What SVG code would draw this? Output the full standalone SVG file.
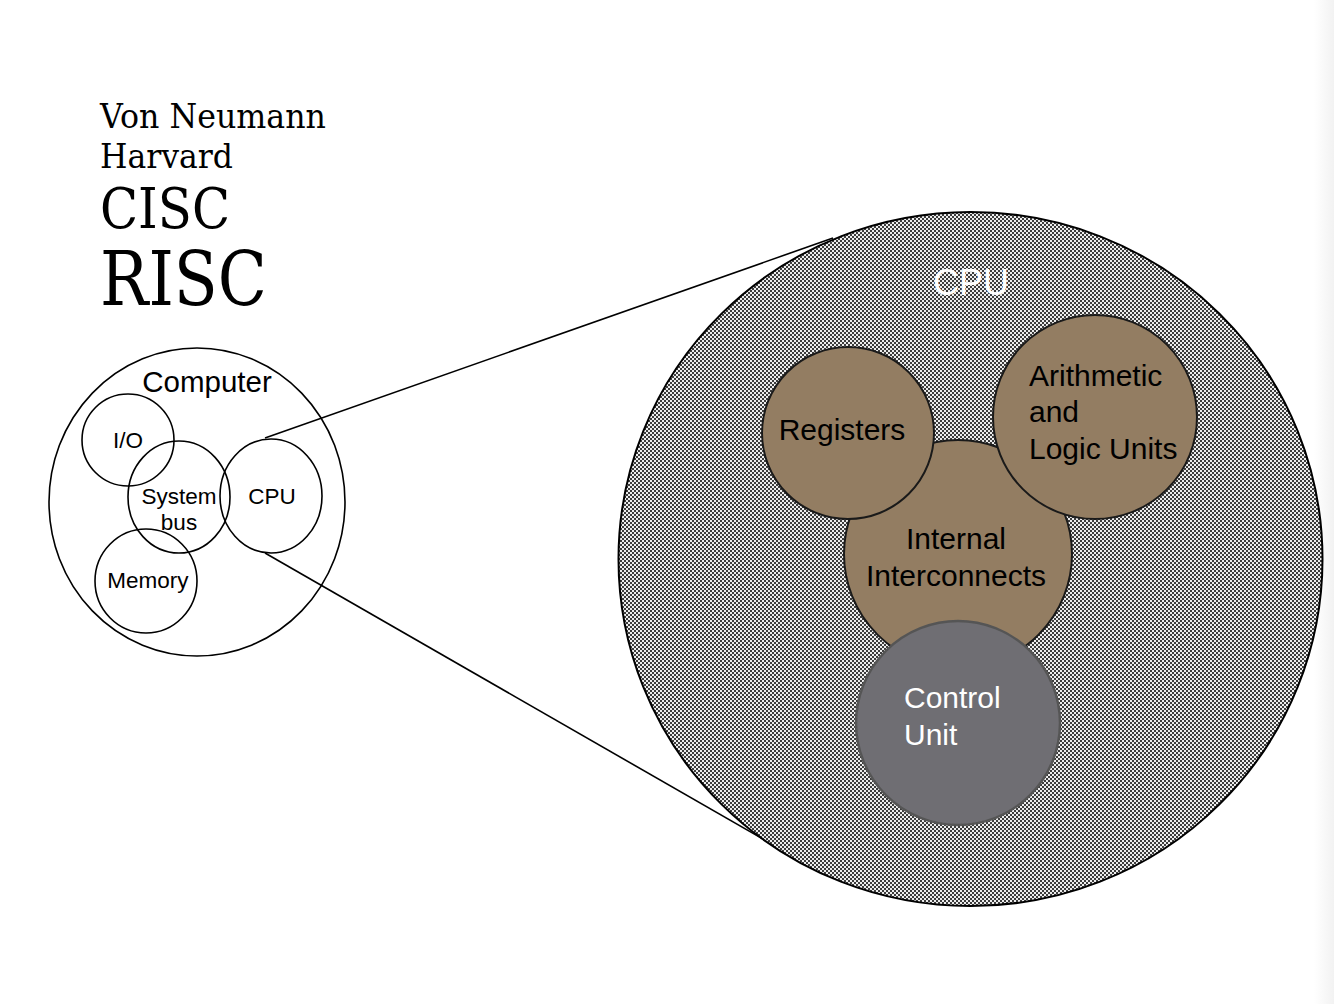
<svg xmlns="http://www.w3.org/2000/svg" width="1334" height="1004" viewBox="0 0 1334 1004">
<style>
.serif{font-family:"DejaVu Serif","Liberation Serif",serif;fill:#000}
.sans{font-family:"Liberation Sans",Arial,sans-serif}
.thin{fill:none;stroke:#000;stroke-width:1.6}
.brown{fill:#937d62;stroke:#1a1a1a;stroke-width:2}
.lbl{font-size:30px;fill:#000}
.wlbl{font-size:30px;fill:#fff}
.small{font-size:22.5px;fill:#000;text-anchor:middle}
</style>
<defs>
<pattern id="chk" width="4" height="4" patternUnits="userSpaceOnUse">
<rect width="4" height="4" fill="#ededed"/>
<rect width="2" height="2" fill="#3c3c3c"/>
<rect x="2" y="2" width="2" height="2" fill="#3c3c3c"/>
</pattern>
<linearGradient id="edge" x1="0" y1="0" x2="1" y2="0">
<stop offset="0" stop-color="#ffffff"/>
<stop offset="1" stop-color="#f2f2f2"/>
</linearGradient>
</defs>
<rect width="1334" height="1004" fill="#fff"/>
<rect x="1314" y="0" width="20" height="1004" fill="url(#edge)"/>

<g id="titles">
<text class="serif" x="100" y="128" font-size="33" textLength="226" lengthAdjust="spacingAndGlyphs">Von Neumann</text>
<text class="serif" x="100" y="168" font-size="33" textLength="133" lengthAdjust="spacingAndGlyphs">Harvard</text>
<text class="serif" x="100" y="228" font-size="56" textLength="130" lengthAdjust="spacingAndGlyphs">CISC</text>
<text class="serif" x="100" y="305" font-size="74" textLength="167" lengthAdjust="spacingAndGlyphs">RISC</text>
</g>

<g id="connectors">
<line x1="265" y1="438" x2="833" y2="238" stroke="#000" stroke-width="1.6"/>
<line x1="265" y1="553" x2="822" y2="873" stroke="#000" stroke-width="1.6"/>
</g>

<g id="computer">
<ellipse class="thin" cx="197" cy="502" rx="148" ry="154"/>
<text class="sans" x="207" y="392" font-size="29.5" text-anchor="middle">Computer</text>
</g>
<g id="io">
<ellipse class="thin" cx="128" cy="440" rx="46" ry="46"/>
<text class="sans small" x="128" y="448">I/O</text>
</g>
<g id="system-bus">
<ellipse class="thin" cx="179" cy="497" rx="51" ry="56"/>
<text class="sans small" x="179" y="504">System</text>
<text class="sans small" x="179" y="530">bus</text>
</g>
<g id="cpu-small">
<ellipse class="thin" cx="271" cy="496" rx="51" ry="57"/>
<text class="sans small" x="272" y="504">CPU</text>
</g>
<g id="memory">
<ellipse class="thin" cx="146" cy="581" rx="51" ry="52"/>
<text class="sans small" x="148" y="588">Memory</text>
</g>

<g id="cpu-big">
<ellipse cx="970.5" cy="559" rx="352" ry="347" fill="url(#chk)" stroke="#000" stroke-width="2"/>
<text class="sans" x="971" y="295" font-size="36" fill="#fff" text-anchor="middle">CPU</text>
</g>
<g id="internal-interconnects">
<circle class="brown" cx="958" cy="554" r="114"/>
<text class="sans lbl" x="956" y="549" text-anchor="middle">Internal</text>
<text class="sans lbl" x="956" y="586" text-anchor="middle">Interconnects</text>
</g>
<g id="registers">
<circle class="brown" cx="848" cy="433" r="86"/>
<text class="sans lbl" x="842" y="440" text-anchor="middle">Registers</text>
</g>
<g id="alu">
<circle class="brown" cx="1095" cy="417" r="102"/>
<text class="sans lbl" x="1029" y="386">Arithmetic</text>
<text class="sans lbl" x="1029" y="422">and</text>
<text class="sans lbl" x="1029" y="459">Logic Units</text>
</g>
<g id="control-unit">
<circle cx="958" cy="723" r="102" fill="#6f6e73" stroke="#555" stroke-width="2.5"/>
<text class="sans wlbl" x="904" y="708">Control</text>
<text class="sans wlbl" x="904" y="745">Unit</text>
</g>
</svg>
